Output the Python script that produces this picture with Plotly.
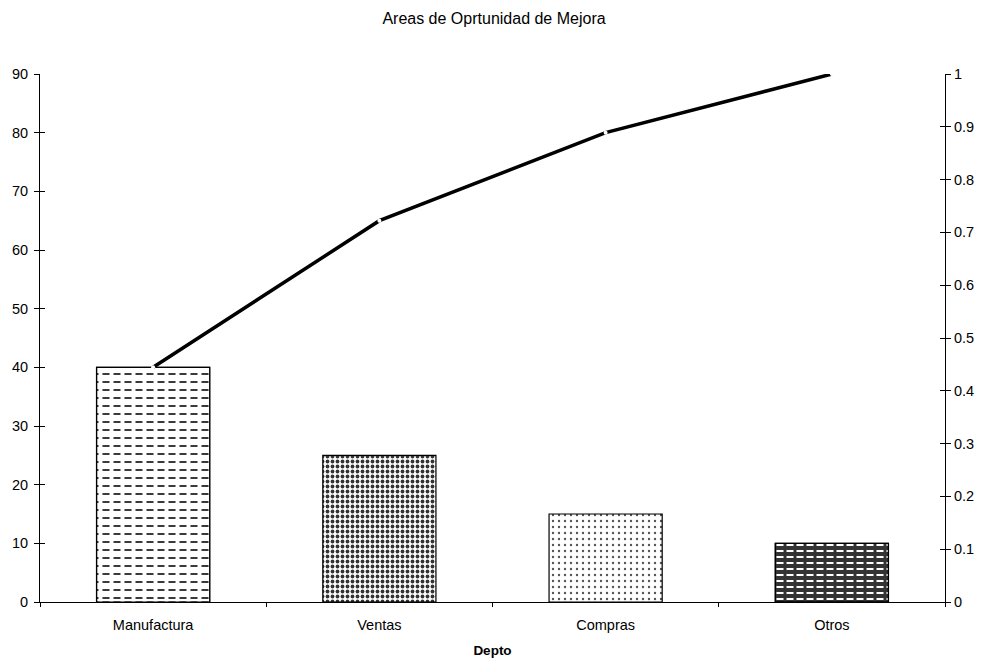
import plotly.graph_objects as go

departamentos = ["Manufactura", "Ventas", "Compras", "Otros"]
oportunidades = [40, 25, 15, 10]
total = sum(oportunidades)
acumulado = []
s = 0
for v in oportunidades:
    s += v
    acumulado.append(s / total)

FONT = "Liberation Sans, Arial, sans-serif"

# fill pattern per bar (base layer)
estilos = [
    dict(shape="-", fgcolor="#3a3a3a", bgcolor="white", size=8, solidity=0.25),
    dict(shape=".", fgcolor="#333333", bgcolor="white", size=5, solidity=0.45),
    dict(shape=".", fgcolor="#555555", bgcolor="white", size=6, solidity=0.12),
    dict(shape="-", fgcolor="white", bgcolor="#333333", size=6, solidity=0.33),
]
# vertical breaks that cut the horizontal lines into dashes
cortes = [
    dict(shape="|", fgcolor="white", size=11, solidity=0.36),
    None,
    None,
    dict(shape="|", fgcolor="#333333", size=10, solidity=0.3),
]

fig = go.Figure()
for dep, val, est, corte in zip(departamentos, oportunidades, estilos, cortes):
    fig.add_trace(go.Bar(
        x=[dep], y=[val], width=0.5,
        marker=dict(color=est["bgcolor"], line=dict(color="black", width=1.2),
                    pattern=dict(shape=est["shape"], fgcolor=est["fgcolor"],
                                 bgcolor=est["bgcolor"], size=est["size"],
                                 solidity=est["solidity"], fillmode="replace")),
        showlegend=False, hoverinfo="x+y",
    ))
    if corte is not None:
        fig.add_trace(go.Bar(
            x=[dep], y=[val], width=0.5,
            marker=dict(color="rgba(0,0,0,0)", line=dict(color="black", width=1.2),
                        pattern=dict(shape=corte["shape"], fgcolor=corte["fgcolor"],
                                     bgcolor="rgba(0,0,0,0)", size=corte["size"],
                                     solidity=corte["solidity"], fillmode="replace")),
            showlegend=False, hoverinfo="skip",
        ))

fig.add_trace(go.Scatter(
    x=departamentos, y=acumulado, yaxis="y2", mode="lines+markers",
    line=dict(color="black", width=3.5),
    marker=dict(size=4, color="white"),
    showlegend=False,
))

fig.update_layout(
    width=988, height=659,
    margin=dict(l=40, r=43, t=74, b=57),
    paper_bgcolor="white", plot_bgcolor="white",
    barmode="overlay",
    font=dict(family=FONT, size=14.5, color="black"),
    title=dict(text="Areas de Oprtunidad de Mejora", x=0.5, xanchor="center",
               y=1 - 18 / 659, yanchor="middle",
               font=dict(family=FONT, size=16, color="black")),
    xaxis=dict(showline=True, linecolor="black", linewidth=1, automargin=False,
               ticks="outside", tickson="boundaries", ticklen=4, tickcolor="black",
               ticklabelstandoff=10,
               title=dict(text="<b>Depto</b>", standoff=13,
                          font=dict(family=FONT, size=13.5)),
               showgrid=False),
    yaxis=dict(range=[0, 90], dtick=10, showline=True, linecolor="black", linewidth=1,
               ticks="outside", ticklen=5, tickcolor="black", showgrid=False,
               ticklabelstandoff=3, zeroline=False, automargin=False),
    yaxis2=dict(range=[0, 1], dtick=0.1, overlaying="y", side="right", showline=True,
                linecolor="black", linewidth=1, ticks="outside", ticklen=5,
                tickcolor="black", showgrid=False, zeroline=False, automargin=False),
    yaxis3=dict(range=[0, 90], dtick=10, overlaying="y", side="left", ticks="inside",
                ticklen=5, tickcolor="black", showticklabels=False, showgrid=False,
                zeroline=False, showline=False, automargin=False),
    yaxis4=dict(range=[0, 1], dtick=0.1, overlaying="y", side="right", ticks="inside",
                ticklen=5, tickcolor="black", showticklabels=False, showgrid=False,
                zeroline=False, showline=False, automargin=False),
)

# invisible traces so the inner tick axes get drawn
fig.add_trace(go.Scatter(x=[departamentos[0]], y=[0], yaxis="y3", mode="markers",
                         marker=dict(opacity=0), showlegend=False, hoverinfo="skip"))
fig.add_trace(go.Scatter(x=[departamentos[0]], y=[0], yaxis="y4", mode="markers",
                         marker=dict(opacity=0), showlegend=False, hoverinfo="skip"))

fig.write_html("out.html")
